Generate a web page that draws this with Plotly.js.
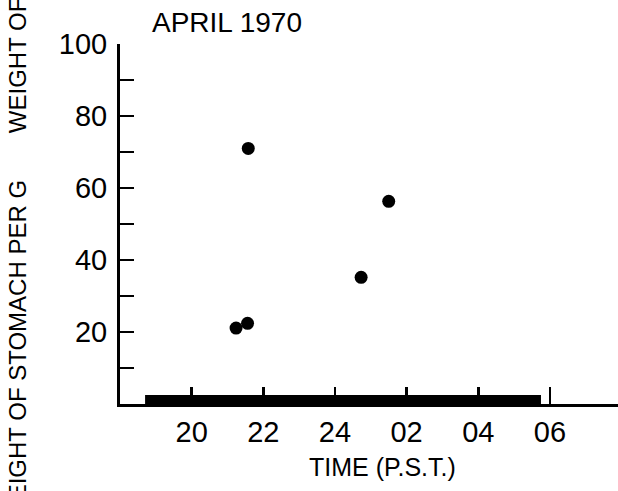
<!DOCTYPE html>
<html>
<head>
<meta charset="utf-8">
<script src="https://cdn.plot.ly/plotly-3.0.1.min.js"></script>
<style>html,body{margin:0;padding:0;background:#fff;}#chart{width:618px;height:491px;}</style>
</head>
<body>
<div id="chart"></div>
<script>
// Data (time in hours; after midnight continues as 25, 26, ...)
var sampleTime = [21.24, 21.56, 21.58, 24.73, 25.50];
var stomachWeight = [21.1, 22.4, 71.0, 35.2, 56.3];
var nightStart = 18.7;
var nightEnd = 29.75;
var xTickVals = [20, 22, 24, 26, 28, 30];
var xTickText = ['20', '22', '24', '02', '04', '06'];
var yTickVals = [10, 20, 30, 40, 50, 60, 70, 80, 90, 100];
var yTickText = ['', '20', '', '40', '', '60', '', '80', '', '100'];
var chartTitle = 'APRIL 1970';
var xTitle = 'TIME (P.S.T.)';
var yTitle = 'WEIGHT OF STOMACH PER G&nbsp;&nbsp;&nbsp;&nbsp;&nbsp;&nbsp;&nbsp;WEIGHT OF';

var FONT = 'Liberation Sans, Arial, sans-serif';

var traces = [
  {
    x: [nightStart, nightEnd],
    y: [1.25, 1.25],
    mode: 'lines',
    line: {color: '#000', width: 9},
    hoverinfo: 'skip',
    showlegend: false
  },
  {
    x: sampleTime,
    y: stomachWeight,
    mode: 'markers',
    marker: {color: '#000', size: 13},
    showlegend: false
  }
];

var layout = {
  width: 618,
  height: 491,
  margin: {l: 120, r: 0, t: 44, b: 87},
  paper_bgcolor: '#fff',
  plot_bgcolor: '#fff',
  font: {family: FONT, color: '#000'},
  showlegend: false,
  title: {
    text: chartTitle,
    font: {family: FONT, size: 28, color: '#000'},
    x: 152 / 618, xanchor: 'left', xref: 'container',
    y: 1 - 22.5 / 491, yanchor: 'middle', yref: 'container'
  },
  xaxis: {
    range: [18, 31.9],
    showgrid: false,
    zeroline: false,
    showline: true,
    linecolor: '#000',
    linewidth: 3,
    ticks: 'inside',
    ticklen: 17,
    tickwidth: 2.5,
    tickcolor: '#000',
    tickvals: xTickVals,
    ticktext: xTickText,
    tickfont: {family: FONT, size: 29, color: '#000'},
    ticklabelstandoff: 0,
    fixedrange: true
  },
  yaxis: {
    range: [0, 100],
    showgrid: false,
    zeroline: false,
    showline: true,
    linecolor: '#000',
    linewidth: 3,
    ticks: 'inside',
    ticklen: 14,
    tickwidth: 2.5,
    tickcolor: '#000',
    tickvals: yTickVals,
    ticktext: yTickText,
    tickfont: {family: FONT, size: 29, color: '#000'},
    ticklabelstandoff: 4,
    fixedrange: true
  },
  annotations: [
    {
      text: xTitle,
      xref: 'paper', yref: 'paper',
      x: (382 - 120) / 498, y: (404 - 467) / 360,
      xanchor: 'center', yanchor: 'middle',
      showarrow: false,
      font: {family: FONT, size: 25, color: '#000'}
    },
    {
      text: yTitle,
      textangle: -90,
      xref: 'paper', yref: 'paper',
      x: (17 - 120) / 498, y: (404 - 261) / 360,
      xanchor: 'center', yanchor: 'middle',
      showarrow: false,
      font: {family: FONT, size: 24, color: '#000'}
    }
  ]
};

Plotly.newPlot('chart', traces, layout, {staticPlot: true, displayModeBar: false});
</script>
</body>
</html>
